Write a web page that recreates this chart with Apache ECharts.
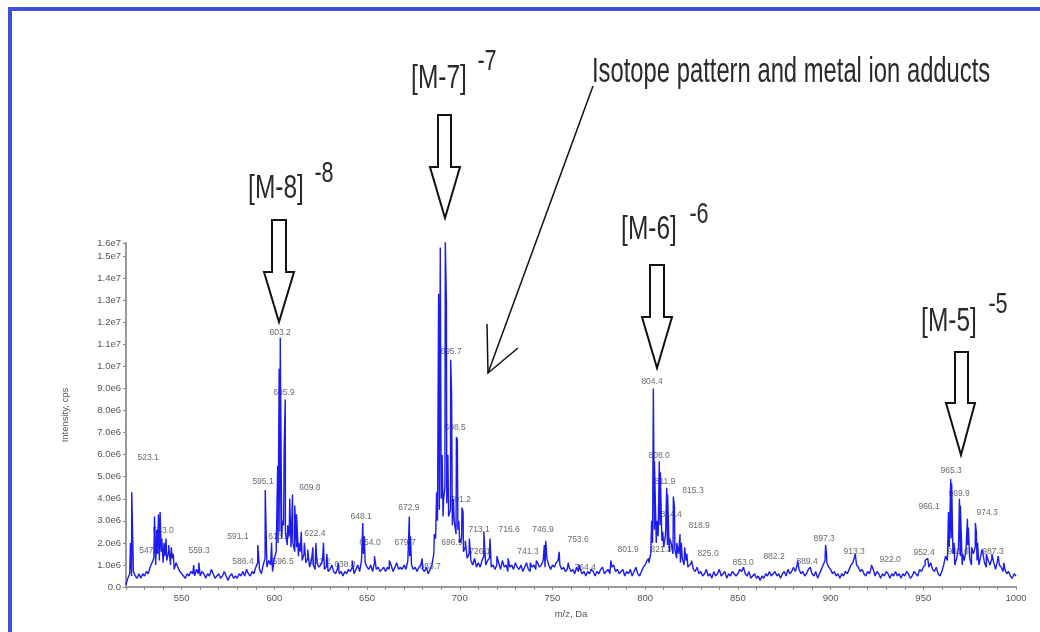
<!DOCTYPE html>
<html>
<head>
<meta charset="utf-8">
<script src="https://cdn.jsdelivr.net/npm/echarts@6/dist/echarts.min.js"></script>
<style>
  html, body { margin: 0; padding: 0; background: #fff; }
  #chart { width: 1040px; height: 632px; }
</style>
</head>
<body>
<div id="chart"></div>
<script>
// baseline / noise level, one value per Da from 520 to 1000 (intensity in 1e6 cps)
const noiseStartMz = 520;
const noise = [
  0.1,0.4,0.6,0.5,0.7,0.5,0.4,0.6,0.4,0.6,
  0.5,0.7,0.6,0.9,1.1,1.3,1.0,1.5,1.2,1.6,
  1.1,1.4,1.2,1.6,1.0,1.3,0.8,1.1,0.9,0.7,
  0.6,0.5,0.4,0.6,0.5,0.7,0.6,0.5,0.8,0.6,
  0.5,0.7,0.6,0.4,0.6,0.5,0.8,0.6,0.4,0.5,
  0.6,0.4,0.5,0.7,0.5,0.3,0.5,0.6,0.4,0.5,
  0.4,0.6,0.5,0.7,0.5,0.8,0.6,0.5,0.7,0.6,
  0.9,1.1,0.8,0.6,1.0,1.3,0.9,1.2,1.0,0.7,
  1.3,1.6,2.0,2.5,2.2,2.8,2.4,1.9,2.3,1.8,
  2.0,1.6,1.8,1.4,1.6,1.2,1.5,1.1,1.3,0.9,
  1.2,1.0,0.8,1.1,0.9,1.0,1.2,0.8,0.9,0.7,
  0.8,1.0,0.7,0.6,0.8,0.6,0.7,0.5,0.7,0.6,
  0.8,0.7,0.9,0.6,0.8,1.0,0.7,1.2,1.5,1.1,
  0.9,0.8,1.0,0.7,1.1,0.8,0.9,0.7,0.8,0.9,
  0.7,0.9,0.8,1.0,0.7,0.9,1.1,0.8,0.9,0.8,
  1.0,0.8,1.2,1.4,1.0,0.8,0.9,0.7,0.9,1.0,
  0.8,0.7,0.9,0.6,0.8,1.0,1.5,2.2,3.0,3.5,
  4.0,3.2,4.5,3.8,3.2,3.5,2.8,3.0,2.4,2.6,
  2.0,2.2,1.6,1.8,1.3,1.5,1.2,1.0,1.3,0.9,
  1.1,0.9,1.2,1.4,1.0,1.2,1.3,0.9,1.0,0.8,
  1.0,1.1,0.8,1.2,0.9,1.0,0.7,0.9,1.0,0.8,
  1.1,0.9,0.8,1.0,0.7,0.9,1.1,0.8,0.7,0.9,
  1.0,0.8,1.1,0.9,1.0,1.2,0.9,1.3,1.0,0.8,
  1.0,0.9,1.1,1.2,1.0,0.8,0.9,0.7,0.8,0.9,
  0.7,0.8,0.6,0.9,0.7,0.8,0.6,0.7,0.5,0.7,
  0.6,0.8,0.7,0.5,0.7,0.6,0.8,0.9,0.6,0.7,
  0.8,0.6,0.9,1.0,0.7,0.8,0.6,0.7,0.8,0.5,
  0.7,0.6,0.8,0.5,0.7,0.9,0.6,0.5,0.7,0.9,
  1.0,1.2,1.1,1.5,2.0,2.6,2.0,2.3,2.8,2.1,
  1.8,2.4,1.9,1.6,2.0,1.5,1.7,1.3,1.5,1.1,
  1.3,1.0,1.2,0.9,1.0,1.1,0.8,0.7,0.9,0.6,
  0.7,0.5,0.6,0.8,0.5,0.6,0.4,0.7,0.5,0.6,
  0.8,0.5,0.6,0.7,0.4,0.6,0.5,0.7,0.6,0.5,
  0.6,0.8,0.7,0.9,0.6,0.5,0.7,0.4,0.5,0.6,
  0.4,0.5,0.3,0.5,0.4,0.6,0.5,0.7,0.5,0.6,
  0.7,0.5,0.6,0.4,0.6,0.7,0.5,0.8,0.6,0.7,
  0.9,0.7,1.0,0.8,0.6,0.7,0.5,0.6,0.8,0.9,
  0.6,0.5,0.7,0.4,0.6,0.8,1.0,1.2,1.1,0.9,
  0.8,0.6,0.7,0.5,0.6,0.4,0.6,0.5,0.7,0.6,
  0.8,1.0,1.1,1.3,1.0,0.9,0.7,0.8,0.6,0.5,
  0.7,0.6,0.9,0.8,0.5,0.7,0.6,0.4,0.6,0.5,
  0.7,0.6,0.4,0.6,0.5,0.7,0.5,0.6,0.4,0.6,
  0.5,0.7,0.6,0.4,0.5,0.7,0.6,0.5,0.8,0.7,
  0.9,1.0,1.2,0.9,1.1,0.8,0.7,0.9,0.6,0.5,
  0.7,1.0,1.4,1.2,1.8,2.2,1.5,1.0,1.3,1.8,
  1.4,1.0,1.2,1.6,1.9,1.3,1.0,1.5,1.8,1.2,
  1.0,1.4,1.6,1.1,0.9,1.2,1.0,1.3,1.1,0.8,
  1.2,1.0,0.9,0.7,0.8,0.6,0.7,0.5,0.4,0.6,
  0.5
];

// peak tops [m/z, intensity in 1e6 cps]
const peaks = [
  [522.4, 2.0], [523.1, 4.3],
  [535.4, 3.2], [536.6, 2.6], [537.5, 3.3], [538.4, 3.4], [539.3, 2.2], [540.5, 2.0],
  [541.6, 2.2], [543.0, 1.9], [544.4, 1.8], [545.5, 1.5],
  [556.5, 1.0], [559.3, 1.1],
  [591.1, 1.9], [595.1, 4.4], [598.5, 2.0], [601.8, 5.5], [602.6, 9.9], [603.2, 11.3],
  [604.4, 3.0], [605.3, 6.4], [605.9, 8.5], [607.2, 2.8], [608.3, 4.0], [609.8, 4.2],
  [611.0, 3.7], [612.0, 3.3], [613.3, 2.0], [614.5, 2.5], [616.2, 2.0], [618.0, 1.7],
  [620.8, 1.8], [622.4, 2.0], [626.5, 2.0], [628.3, 1.5],
  [634.5, 1.1], [642.0, 1.2], [647.7, 2.9], [648.5, 2.3], [654.0, 1.4], [662.0, 1.2],
  [672.8, 3.2], [673.4, 2.3], [679.7, 1.3],
  [686.3, 2.4], [687.5, 4.3], [688.6, 13.3], [689.5, 15.4], [690.5, 6.0], [691.3, 4.0],
  [692.2, 15.7], [692.8, 13.0], [693.6, 6.0], [695.1, 10.3], [695.6, 8.8], [696.6, 4.0],
  [698.2, 6.8], [698.7, 6.7], [699.5, 3.0], [701.2, 3.6], [701.8, 3.4], [703.0, 2.1],
  [705.2, 2.2],
  [713.0, 2.5], [716.3, 2.2], [720.0, 1.4], [726.1, 1.3], [738.0, 1.1], [741.3, 1.2],
  [745.6, 1.9], [746.4, 2.1], [753.6, 1.6], [758.5, 1.1], [764.4, 1.0], [781.5, 1.2],
  [801.9, 1.3], [803.5, 3.0], [804.4, 9.0], [805.0, 5.7], [806.3, 3.0], [807.6, 5.7],
  [808.2, 5.2], [809.5, 2.5], [811.6, 4.5], [812.1, 4.2], [813.2, 2.2], [815.2, 4.1],
  [815.8, 3.6], [817.0, 2.0], [818.8, 2.4], [819.5, 2.0], [821.3, 1.8], [822.5, 1.5],
  [825.0, 1.2],
  [853.0, 0.9], [882.2, 1.2], [889.4, 0.9], [897.3, 1.9], [897.8, 1.5], [912.7, 1.3],
  [913.3, 1.5], [922.0, 1.0], [951.0, 1.2], [952.4, 1.3],
  [963.6, 3.4], [964.8, 4.9], [965.3, 4.7], [966.6, 2.0], [969.5, 4.0], [970.0, 3.7],
  [971.3, 1.5], [973.8, 3.1], [974.3, 2.7], [976.0, 1.8], [978.1, 2.9], [978.6, 2.5],
  [979.3, 2.0], [981.6, 1.7], [984.0, 1.5], [987.0, 1.5], [990.4, 1.4], [993.5, 1.1]
];

// peak annotations [m/z, intensity level, text]
const peakLabels = [
  [531.9, 5.86, '523.1'], [540.0, 2.55, '543.0'], [532.9, 1.64, '547.6'], [559.4, 1.64, '559.3'],
  [580.4, 2.27, '591.1'], [593.9, 4.77, '595.1'], [603.1, 11.55, '603.2'], [605.2, 8.82, '605.9'],
  [619.2, 4.5, '609.8'], [602.5, 2.27, '613.5'], [621.9, 2.41, '622.4'], [583.1, 1.14, '586.4'],
  [604.7, 1.14, '596.5'], [624.6, 1.14, '631.2'], [638.1, 1.0, '638.8'], [646.8, 3.18, '648.1'],
  [651.6, 2.0, '654.0'], [670.5, 2.0, '679.7'], [684.0, 0.91, '683.7'], [672.6, 3.59, '672.9'],
  [691.5, 16.0, '692.6'], [695.3, 10.68, '695.7'], [697.5, 7.23, '698.5'], [700.2, 3.95, '701.2'],
  [695.8, 2.0, '696.9'], [710.4, 2.59, '713.1'], [726.6, 2.59, '716.6'], [744.9, 2.59, '746.9'],
  [736.8, 1.59, '741.3'], [710.9, 1.59, '726.1'], [763.8, 2.14, '753.6'], [767.6, 0.86, '764.4'],
  [790.8, 1.68, '801.9'], [808.6, 1.68, '821.3'], [803.7, 9.32, '804.4'], [807.5, 5.95, '808.0'],
  [810.7, 4.77, '811.9'], [825.8, 4.36, '815.3'], [814.0, 3.27, '814.4'], [829.1, 2.77, '818.9'],
  [833.9, 1.5, '825.0'], [852.8, 1.09, '853.0'], [869.5, 1.36, '882.2'], [887.3, 1.14, '889.4'],
  [896.5, 2.18, '897.3'], [912.7, 1.59, '913.3'], [932.1, 1.23, '922.0'], [950.4, 1.55, '952.4'],
  [965.0, 5.27, '965.3'], [953.1, 3.64, '966.1'], [969.3, 4.23, '969.9'], [984.4, 3.36, '974.3'],
  [968.8, 1.59, '981.6'], [987.6, 1.59, '987.3']
];

// charge state call-outs
const ionLabels = ['[M-8]', '[M-7]', '[M-6]', '[M-5]'];
const ionCharges = ['-8', '-7', '-6', '-5'];
const noteText = 'Isotope pattern and metal ion adducts';

const spectrum = noise.map((v, i) => [noiseStartMz + i, v]).concat(peaks);
spectrum.sort((a, b) => a[0] - b[0]);

const ionPos = [[276, 189, 324, 174], [439, 79, 487, 62], [649, 230, 699, 215], [949, 322, 998, 305]];
const arrows = [
  [[272,220],[286,220],[286,272],[294,272],[279,322],[264,272],[272,272]],
  [[438,115],[451,115],[451,167],[460,167],[445,218],[430,167],[438,167]],
  [[650,265],[664,265],[664,317],[672,317],[657,368],[642,317],[650,317]],
  [[955,352],[968,352],[968,403],[975,403],[961,455],[946,403],[955,403]]
];

const annoFont = '"Liberation Sans", sans-serif';
const graphics = [
  { type: 'rect', shape: { x: 10, y: 9, width: 1100, height: 700 },
    style: { fill: 'none', stroke: '#4150d4', lineWidth: 4 }, silent: true }
];
ionLabels.forEach((t, i) => {
  const p = ionPos[i];
  graphics.push({ type: 'text', x: p[0], y: p[1], scaleX: 0.72,
    style: { text: t, font: '34px ' + annoFont, fill: '#2a2a2a', align: 'center', verticalAlign: 'middle' } });
  graphics.push({ type: 'text', x: p[2], y: p[3], scaleX: 0.72,
    style: { text: ionCharges[i], font: '30px ' + annoFont, fill: '#2a2a2a', align: 'center', verticalAlign: 'middle' } });
  graphics.push({ type: 'polygon', shape: { points: arrows[i] },
    style: { fill: '#fff', stroke: '#111', lineWidth: 2 } });
});
graphics.push({ type: 'text', x: 592, y: 72, scaleX: 0.68,
  style: { text: noteText, font: '35px ' + annoFont, fill: '#2a2a2a', align: 'left', verticalAlign: 'middle' } });
graphics.push({ type: 'polyline', shape: { points: [[593, 86], [488, 373]] },
  style: { stroke: '#111', lineWidth: 1.5, fill: null } });
graphics.push({ type: 'polyline', shape: { points: [[487, 324], [488, 373], [518, 348]] },
  style: { stroke: '#111', lineWidth: 1.5, fill: null } });

const chart = echarts.init(document.getElementById('chart'));
chart.setOption({
  animation: false,
  backgroundColor: '#fff',
  grid: { left: 126, right: 24, top: 243, bottom: 45 },
  xAxis: {
    type: 'value', min: 520, max: 1000, interval: 10,
    name: 'm/z, Da', nameLocation: 'middle', nameGap: 22,
    nameTextStyle: { fontSize: 9.5, color: '#555', fontFamily: 'Liberation Sans' },
    axisLine: { lineStyle: { color: '#999', width: 2 } },
    axisTick: { length: 3, lineStyle: { color: '#888' } },
    axisLabel: { fontSize: 9.5, color: '#555', margin: 6, fontFamily: 'Liberation Sans',
      formatter: v => (v % 50 === 0 ? String(v) : '') },
    splitLine: { show: false }
  },
  yAxis: {
    type: 'value', min: 0, max: 15.6, interval: 1,
    name: 'Intensity, cps', nameLocation: 'middle', nameGap: 56, nameRotate: 90,
    nameTextStyle: { fontSize: 9.5, color: '#555', fontFamily: 'Liberation Sans' },
    axisLine: { show: true, lineStyle: { color: '#999', width: 2 } },
    axisTick: { show: true, length: 3, lineStyle: { color: '#888' } },
    axisLabel: { fontSize: 9.5, color: '#555', margin: 5, fontFamily: 'Liberation Sans',
      formatter: v => (v === 0 ? '0.0' : (v * 1e6).toExponential(1).replace('+', '')) },
    splitLine: { show: false }
  },
  series: [
    {
      type: 'line', data: spectrum, showSymbol: false, sampling: 'none',
      lineStyle: { color: '#1c1cee', width: 1.4 }, silent: true
    },
    {
      type: 'scatter', data: peakLabels, symbolSize: 1, silent: true,
      itemStyle: { color: 'rgba(0,0,0,0)' },
      label: { show: true, position: 'inside', formatter: p => p.data[2],
        fontSize: 8.5, color: '#444', fontFamily: 'Liberation Sans' }
    }
  ],
  graphic: graphics
});
</script>
</body>
</html>
